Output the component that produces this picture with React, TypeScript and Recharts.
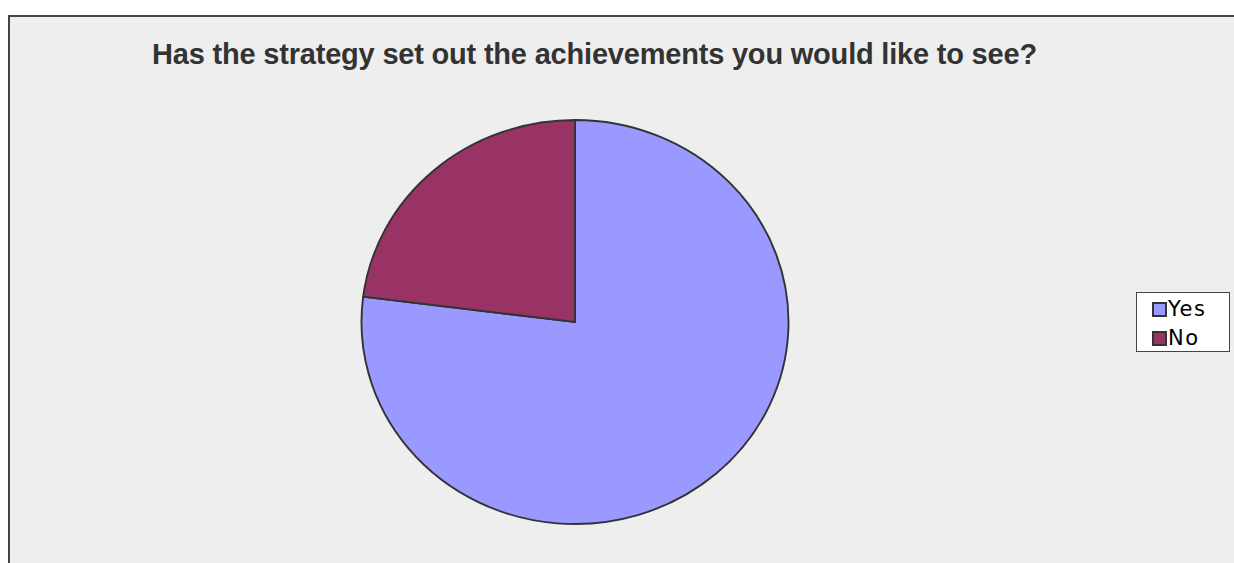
import React from "react";
import { PieChart, Pie, Cell } from "recharts";

const categories = ["Yes", "No"];
const shares = [77, 23];
const colors = ["#9999FF", "#993366"];
const title = "Has the strategy set out the achievements you would like to see?";

const data = categories.map((name, i) => ({ name, value: shares[i] }));

const font = "'Liberation Sans', Arial, sans-serif";

export default function App() {
  return (
    <div
      style={{
        position: "fixed",
        left: 0,
        top: 0,
        width: 1234,
        height: 563,
        background: "#fff",
        overflow: "hidden",
        fontFamily: font,
      }}
    >
      {/* chart area frame, runs off the right and bottom edges */}
      <div
        style={{
          position: "absolute",
          left: 8,
          top: 15,
          width: 1260,
          height: 600,
          background: "#eeeeee",
          borderLeft: "2px solid #444",
          borderTop: "2px solid #444",
        }}
      />
      <div
        style={{
          position: "absolute",
          left: 0,
          top: 40,
          width: 1189,
          textAlign: "center",
          fontSize: 29,
          lineHeight: "29px",
          fontWeight: "bold",
          color: "#333",
          letterSpacing: -0.2,
          whiteSpace: "nowrap",
        }}
      >
        {title}
      </div>
      {/* pie is slightly wider than tall in the source */}
      <div
        style={{
          position: "absolute",
          left: 574.5 - 210,
          top: 322 - 210,
          width: 420,
          height: 420,
          transform: "scaleX(1.057)",
          transformOrigin: "center",
        }}
      >
        <PieChart width={420} height={420} margin={{ top: 0, right: 0, bottom: 0, left: 0 }}>
          <Pie
            data={data}
            dataKey="value"
            nameKey="name"
            cx={210}
            cy={210}
            outerRadius={202}
            startAngle={90}
            endAngle={-270}
            stroke="#333"
            strokeWidth={1.8}
            isAnimationActive={false}
          >
            {data.map((d, i) => (
              <Cell key={d.name} fill={colors[i]} />
            ))}
          </Pie>
        </PieChart>
      </div>
      <div
        style={{
          position: "absolute",
          left: 1136,
          top: 292,
          width: 92,
          height: 58,
          background: "#fff",
          border: "1.5px solid #444",
        }}
      >
        {data.map((d, i) => (
          <div
            key={d.name}
            style={{
              position: "absolute",
              left: 15,
              top: 4 + i * 29,
              height: 24,
              display: "flex",
              alignItems: "center",
              fontFamily: "'DejaVu Sans', sans-serif",
              fontSize: 21,
              letterSpacing: 1.5,
              color: "#000",
            }}
          >
            <span
              style={{
                display: "inline-block",
                width: 11,
                height: 11,
                background: colors[i],
                border: "2px solid #333",
                marginRight: 1,
              }}
            />
            {d.name}
          </div>
        ))}
      </div>
    </div>
  );
}
